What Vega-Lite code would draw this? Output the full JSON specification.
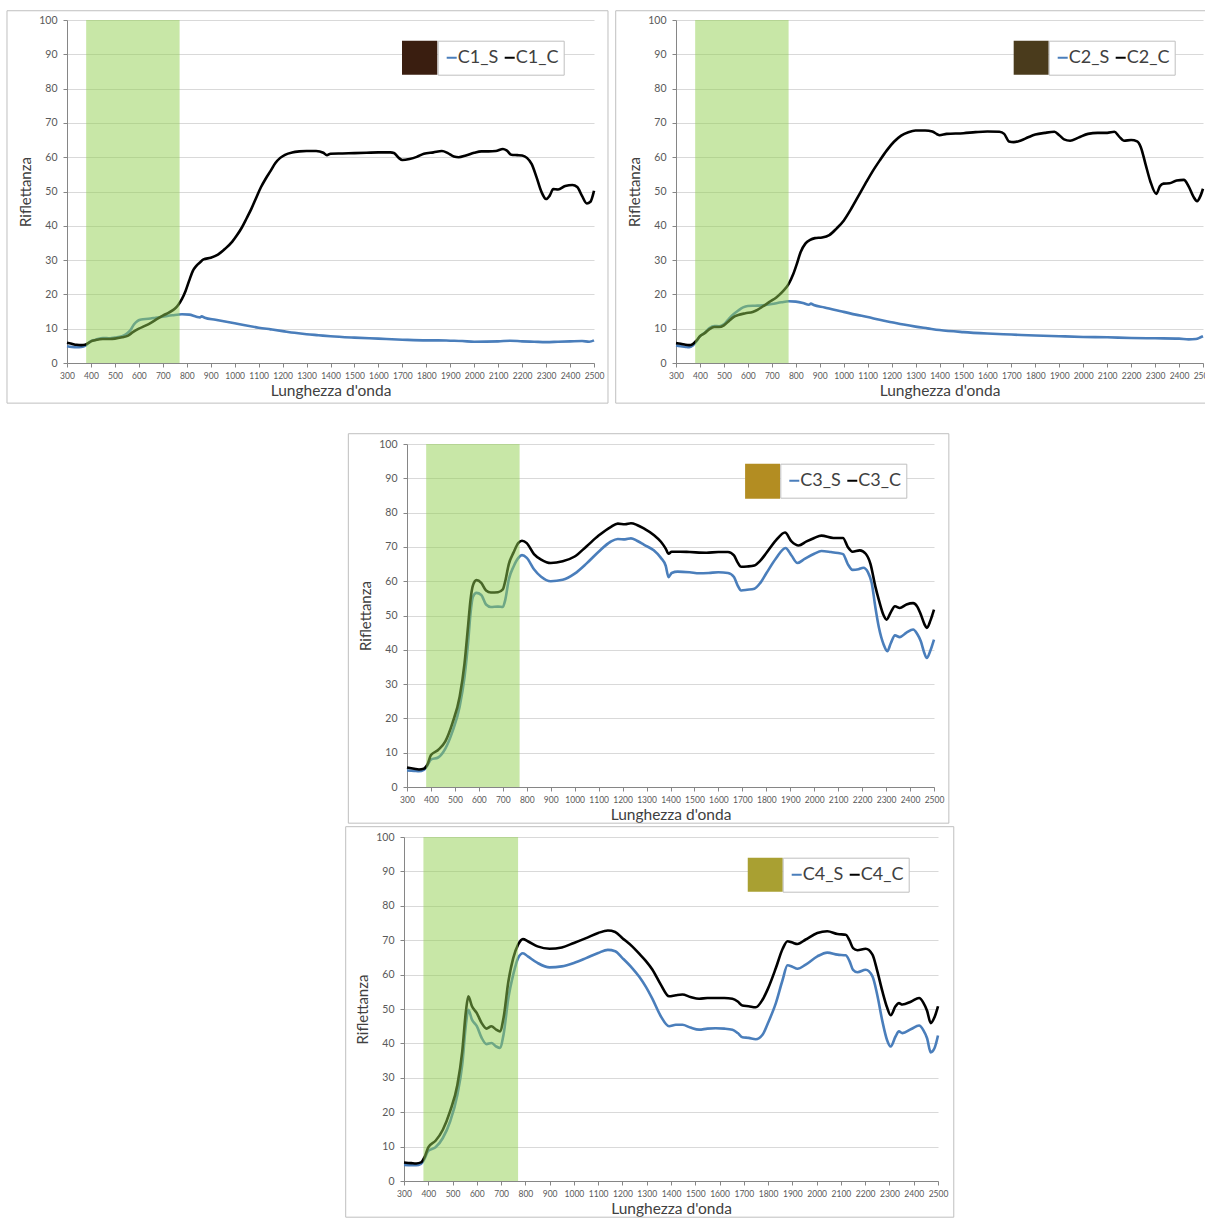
{
  "$schema": "https://vega.github.io/schema/vega-lite/v6.json",
  "background": "white",
  "padding": {"left": 6, "top": 10, "right": 0, "bottom": 0},
  "config": {
    "view": {"stroke": null},
    "font": "Lato",
    "axis": {
      "labelFont": "Lato", "titleFont": "Lato", "labelColor": "#595959", "titleColor": "#404040",
      "titleFontWeight": "normal", "domainColor": "#868686", "tickColor": "#868686", "gridColor": "#d9d9d9",
      "tickSize": 4
    },
    "axisX": {"grid": false, "format": "d", "labelFontSize": 8.5, "labelPadding": 4, "labelFlush": false, "labelOverlap": false, "titleFontSize": 15.5, "titlePadding": 4},
    "axisY": {"grid": true, "labelFontSize": 10.5, "labelPadding": 6, "labelOverlap": false, "titleFontSize": 15, "titlePadding": 5},
    "legend": {
      "orient": "none", "direction": "horizontal", "title": null, "symbolType": "stroke", "symbolSize": 100,
      "symbolStrokeWidth": 2, "labelFont": "Lato", "labelFontSize": 18, "labelColor": "#404040", "labelOffset": -3,
      "columnPadding": 2, "padding": 5, "clipHeight": 24, "fillColor": "white", "strokeColor": "#bfbfbf"
    }
  },
  "datasets": {
    "c1": [
      {"nm":300,"serie":"C1_S","r":4.9},{"nm":320,"serie":"C1_S","r":4.7},{"nm":340,"serie":"C1_S","r":4.6},{"nm":360,"serie":"C1_S","r":4.7},{"nm":375,"serie":"C1_S","r":5.0},{"nm":390,"serie":"C1_S","r":5.8},{"nm":400,"serie":"C1_S","r":6.4},{"nm":420,"serie":"C1_S","r":6.8},{"nm":450,"serie":"C1_S","r":7.3},{"nm":480,"serie":"C1_S","r":7.2},{"nm":500,"serie":"C1_S","r":7.4},{"nm":530,"serie":"C1_S","r":7.8},{"nm":550,"serie":"C1_S","r":8.6},{"nm":565,"serie":"C1_S","r":9.6},{"nm":580,"serie":"C1_S","r":11.3},{"nm":595,"serie":"C1_S","r":12.3},{"nm":610,"serie":"C1_S","r":12.7},{"nm":640,"serie":"C1_S","r":12.9},{"nm":670,"serie":"C1_S","r":13.2},{"nm":700,"serie":"C1_S","r":13.5},{"nm":740,"serie":"C1_S","r":13.9},{"nm":780,"serie":"C1_S","r":14.2},{"nm":810,"serie":"C1_S","r":14.1},{"nm":840,"serie":"C1_S","r":13.5},{"nm":855,"serie":"C1_S","r":13.3},{"nm":862,"serie":"C1_S","r":13.6},{"nm":875,"serie":"C1_S","r":13.2},{"nm":920,"serie":"C1_S","r":12.6},{"nm":1000,"serie":"C1_S","r":11.6},{"nm":1100,"serie":"C1_S","r":10.3},{"nm":1150,"serie":"C1_S","r":9.8},{"nm":1200,"serie":"C1_S","r":9.3},{"nm":1250,"serie":"C1_S","r":8.8},{"nm":1300,"serie":"C1_S","r":8.4},{"nm":1350,"serie":"C1_S","r":8.1},{"nm":1400,"serie":"C1_S","r":7.8},{"nm":1500,"serie":"C1_S","r":7.4},{"nm":1600,"serie":"C1_S","r":7.1},{"nm":1700,"serie":"C1_S","r":6.8},{"nm":1800,"serie":"C1_S","r":6.6},{"nm":1850,"serie":"C1_S","r":6.6},{"nm":1900,"serie":"C1_S","r":6.5},{"nm":1950,"serie":"C1_S","r":6.4},{"nm":2000,"serie":"C1_S","r":6.2},{"nm":2100,"serie":"C1_S","r":6.3},{"nm":2150,"serie":"C1_S","r":6.5},{"nm":2200,"serie":"C1_S","r":6.3},{"nm":2250,"serie":"C1_S","r":6.2},{"nm":2300,"serie":"C1_S","r":6.1},{"nm":2350,"serie":"C1_S","r":6.2},{"nm":2400,"serie":"C1_S","r":6.3},{"nm":2450,"serie":"C1_S","r":6.4},{"nm":2480,"serie":"C1_S","r":6.2},{"nm":2500,"serie":"C1_S","r":6.6},
      {"nm":300,"serie":"C1_C","r":5.9},{"nm":320,"serie":"C1_C","r":5.6},{"nm":340,"serie":"C1_C","r":5.3},{"nm":360,"serie":"C1_C","r":5.2},{"nm":375,"serie":"C1_C","r":5.3},{"nm":390,"serie":"C1_C","r":5.9},{"nm":400,"serie":"C1_C","r":6.3},{"nm":420,"serie":"C1_C","r":6.7},{"nm":450,"serie":"C1_C","r":7.0},{"nm":480,"serie":"C1_C","r":7.0},{"nm":500,"serie":"C1_C","r":7.1},{"nm":530,"serie":"C1_C","r":7.5},{"nm":555,"serie":"C1_C","r":8.0},{"nm":575,"serie":"C1_C","r":9.0},{"nm":600,"serie":"C1_C","r":10.0},{"nm":625,"serie":"C1_C","r":10.8},{"nm":650,"serie":"C1_C","r":11.7},{"nm":680,"serie":"C1_C","r":13.0},{"nm":700,"serie":"C1_C","r":13.8},{"nm":725,"serie":"C1_C","r":14.7},{"nm":750,"serie":"C1_C","r":15.8},{"nm":765,"serie":"C1_C","r":17.0},{"nm":780,"serie":"C1_C","r":18.7},{"nm":795,"serie":"C1_C","r":21.0},{"nm":810,"serie":"C1_C","r":24.0},{"nm":825,"serie":"C1_C","r":26.8},{"nm":840,"serie":"C1_C","r":28.3},{"nm":855,"serie":"C1_C","r":29.3},{"nm":870,"serie":"C1_C","r":30.2},{"nm":900,"serie":"C1_C","r":30.7},{"nm":930,"serie":"C1_C","r":31.6},{"nm":960,"serie":"C1_C","r":33.3},{"nm":990,"serie":"C1_C","r":35.4},{"nm":1010,"serie":"C1_C","r":37.3},{"nm":1030,"serie":"C1_C","r":39.5},{"nm":1050,"serie":"C1_C","r":42.2},{"nm":1070,"serie":"C1_C","r":45.0},{"nm":1090,"serie":"C1_C","r":48.2},{"nm":1110,"serie":"C1_C","r":51.3},{"nm":1130,"serie":"C1_C","r":53.8},{"nm":1150,"serie":"C1_C","r":56.0},{"nm":1170,"serie":"C1_C","r":58.3},{"nm":1190,"serie":"C1_C","r":59.8},{"nm":1210,"serie":"C1_C","r":60.7},{"nm":1240,"serie":"C1_C","r":61.4},{"nm":1270,"serie":"C1_C","r":61.7},{"nm":1300,"serie":"C1_C","r":61.8},{"nm":1340,"serie":"C1_C","r":61.8},{"nm":1370,"serie":"C1_C","r":61.3},{"nm":1385,"serie":"C1_C","r":60.6},{"nm":1400,"serie":"C1_C","r":61.0},{"nm":1450,"serie":"C1_C","r":61.1},{"nm":1500,"serie":"C1_C","r":61.2},{"nm":1550,"serie":"C1_C","r":61.3},{"nm":1600,"serie":"C1_C","r":61.4},{"nm":1650,"serie":"C1_C","r":61.4},{"nm":1665,"serie":"C1_C","r":61.2},{"nm":1685,"serie":"C1_C","r":59.8},{"nm":1700,"serie":"C1_C","r":59.2},{"nm":1730,"serie":"C1_C","r":59.5},{"nm":1760,"serie":"C1_C","r":60.1},{"nm":1790,"serie":"C1_C","r":61.0},{"nm":1830,"serie":"C1_C","r":61.4},{"nm":1865,"serie":"C1_C","r":61.8},{"nm":1890,"serie":"C1_C","r":61.2},{"nm":1915,"serie":"C1_C","r":60.2},{"nm":1935,"serie":"C1_C","r":60.0},{"nm":1965,"serie":"C1_C","r":60.5},{"nm":2000,"serie":"C1_C","r":61.3},{"nm":2030,"serie":"C1_C","r":61.7},{"nm":2060,"serie":"C1_C","r":61.7},{"nm":2090,"serie":"C1_C","r":61.8},{"nm":2120,"serie":"C1_C","r":62.4},{"nm":2135,"serie":"C1_C","r":62.0},{"nm":2155,"serie":"C1_C","r":60.7},{"nm":2180,"serie":"C1_C","r":60.6},{"nm":2200,"serie":"C1_C","r":60.5},{"nm":2220,"serie":"C1_C","r":59.8},{"nm":2240,"serie":"C1_C","r":58.0},{"nm":2260,"serie":"C1_C","r":54.2},{"nm":2280,"serie":"C1_C","r":50.0},{"nm":2300,"serie":"C1_C","r":47.8},{"nm":2315,"serie":"C1_C","r":48.8},{"nm":2330,"serie":"C1_C","r":50.7},{"nm":2350,"serie":"C1_C","r":50.6},{"nm":2380,"serie":"C1_C","r":51.6},{"nm":2410,"serie":"C1_C","r":51.9},{"nm":2430,"serie":"C1_C","r":51.3},{"nm":2450,"serie":"C1_C","r":48.7},{"nm":2470,"serie":"C1_C","r":46.5},{"nm":2485,"serie":"C1_C","r":47.0},{"nm":2500,"serie":"C1_C","r":50.2}
    ],
    "c2": [
      {"nm":300,"serie":"C2_S","r":5.1},{"nm":320,"serie":"C2_S","r":4.9},{"nm":340,"serie":"C2_S","r":4.7},{"nm":355,"serie":"C2_S","r":4.6},{"nm":370,"serie":"C2_S","r":5.1},{"nm":385,"serie":"C2_S","r":6.3},{"nm":400,"serie":"C2_S","r":7.8},{"nm":420,"serie":"C2_S","r":8.8},{"nm":440,"serie":"C2_S","r":10.2},{"nm":460,"serie":"C2_S","r":10.8},{"nm":480,"serie":"C2_S","r":10.7},{"nm":500,"serie":"C2_S","r":11.3},{"nm":520,"serie":"C2_S","r":12.8},{"nm":540,"serie":"C2_S","r":14.2},{"nm":560,"serie":"C2_S","r":15.3},{"nm":580,"serie":"C2_S","r":16.2},{"nm":600,"serie":"C2_S","r":16.6},{"nm":630,"serie":"C2_S","r":16.7},{"nm":660,"serie":"C2_S","r":16.8},{"nm":700,"serie":"C2_S","r":17.2},{"nm":740,"serie":"C2_S","r":17.7},{"nm":770,"serie":"C2_S","r":18.0},{"nm":800,"serie":"C2_S","r":17.9},{"nm":830,"serie":"C2_S","r":17.5},{"nm":855,"serie":"C2_S","r":17.0},{"nm":863,"serie":"C2_S","r":17.3},{"nm":875,"serie":"C2_S","r":16.9},{"nm":920,"serie":"C2_S","r":16.2},{"nm":960,"serie":"C2_S","r":15.5},{"nm":1000,"serie":"C2_S","r":14.9},{"nm":1050,"serie":"C2_S","r":14.1},{"nm":1100,"serie":"C2_S","r":13.4},{"nm":1150,"serie":"C2_S","r":12.6},{"nm":1200,"serie":"C2_S","r":11.9},{"nm":1250,"serie":"C2_S","r":11.2},{"nm":1300,"serie":"C2_S","r":10.6},{"nm":1350,"serie":"C2_S","r":10.1},{"nm":1400,"serie":"C2_S","r":9.6},{"nm":1500,"serie":"C2_S","r":9.0},{"nm":1600,"serie":"C2_S","r":8.6},{"nm":1700,"serie":"C2_S","r":8.3},{"nm":1800,"serie":"C2_S","r":8.0},{"nm":1900,"serie":"C2_S","r":7.8},{"nm":2000,"serie":"C2_S","r":7.6},{"nm":2100,"serie":"C2_S","r":7.5},{"nm":2200,"serie":"C2_S","r":7.3},{"nm":2300,"serie":"C2_S","r":7.2},{"nm":2400,"serie":"C2_S","r":7.1},{"nm":2440,"serie":"C2_S","r":6.9},{"nm":2470,"serie":"C2_S","r":7.0},{"nm":2490,"serie":"C2_S","r":7.5},{"nm":2500,"serie":"C2_S","r":7.8},
      {"nm":300,"serie":"C2_C","r":5.8},{"nm":320,"serie":"C2_C","r":5.6},{"nm":340,"serie":"C2_C","r":5.3},{"nm":355,"serie":"C2_C","r":5.2},{"nm":370,"serie":"C2_C","r":5.5},{"nm":385,"serie":"C2_C","r":6.5},{"nm":400,"serie":"C2_C","r":7.8},{"nm":420,"serie":"C2_C","r":8.7},{"nm":440,"serie":"C2_C","r":9.9},{"nm":460,"serie":"C2_C","r":10.5},{"nm":480,"serie":"C2_C","r":10.5},{"nm":500,"serie":"C2_C","r":11.0},{"nm":520,"serie":"C2_C","r":12.2},{"nm":540,"serie":"C2_C","r":13.4},{"nm":560,"serie":"C2_C","r":14.0},{"nm":590,"serie":"C2_C","r":14.5},{"nm":620,"serie":"C2_C","r":14.9},{"nm":640,"serie":"C2_C","r":15.5},{"nm":660,"serie":"C2_C","r":16.4},{"nm":690,"serie":"C2_C","r":17.8},{"nm":720,"serie":"C2_C","r":19.2},{"nm":745,"serie":"C2_C","r":20.8},{"nm":770,"serie":"C2_C","r":23.0},{"nm":790,"serie":"C2_C","r":26.0},{"nm":805,"serie":"C2_C","r":29.0},{"nm":820,"serie":"C2_C","r":32.3},{"nm":840,"serie":"C2_C","r":34.8},{"nm":860,"serie":"C2_C","r":35.9},{"nm":880,"serie":"C2_C","r":36.4},{"nm":910,"serie":"C2_C","r":36.6},{"nm":940,"serie":"C2_C","r":37.3},{"nm":970,"serie":"C2_C","r":39.2},{"nm":1000,"serie":"C2_C","r":41.5},{"nm":1030,"serie":"C2_C","r":44.8},{"nm":1060,"serie":"C2_C","r":48.5},{"nm":1090,"serie":"C2_C","r":52.2},{"nm":1120,"serie":"C2_C","r":55.8},{"nm":1150,"serie":"C2_C","r":59.0},{"nm":1180,"serie":"C2_C","r":62.0},{"nm":1210,"serie":"C2_C","r":64.5},{"nm":1240,"serie":"C2_C","r":66.3},{"nm":1270,"serie":"C2_C","r":67.3},{"nm":1300,"serie":"C2_C","r":67.8},{"nm":1340,"serie":"C2_C","r":67.8},{"nm":1370,"serie":"C2_C","r":67.5},{"nm":1390,"serie":"C2_C","r":66.7},{"nm":1400,"serie":"C2_C","r":66.4},{"nm":1430,"serie":"C2_C","r":66.8},{"nm":1500,"serie":"C2_C","r":67.0},{"nm":1550,"serie":"C2_C","r":67.3},{"nm":1600,"serie":"C2_C","r":67.5},{"nm":1650,"serie":"C2_C","r":67.4},{"nm":1670,"serie":"C2_C","r":66.8},{"nm":1690,"serie":"C2_C","r":64.6},{"nm":1710,"serie":"C2_C","r":64.4},{"nm":1740,"serie":"C2_C","r":64.9},{"nm":1770,"serie":"C2_C","r":65.8},{"nm":1800,"serie":"C2_C","r":66.6},{"nm":1840,"serie":"C2_C","r":67.1},{"nm":1880,"serie":"C2_C","r":67.4},{"nm":1900,"serie":"C2_C","r":66.4},{"nm":1920,"serie":"C2_C","r":65.2},{"nm":1945,"serie":"C2_C","r":64.8},{"nm":1980,"serie":"C2_C","r":65.7},{"nm":2020,"serie":"C2_C","r":66.8},{"nm":2060,"serie":"C2_C","r":67.1},{"nm":2100,"serie":"C2_C","r":67.1},{"nm":2130,"serie":"C2_C","r":67.4},{"nm":2150,"serie":"C2_C","r":66.0},{"nm":2170,"serie":"C2_C","r":64.8},{"nm":2200,"serie":"C2_C","r":65.0},{"nm":2225,"serie":"C2_C","r":64.6},{"nm":2240,"serie":"C2_C","r":63.0},{"nm":2260,"serie":"C2_C","r":58.0},{"nm":2280,"serie":"C2_C","r":53.0},{"nm":2305,"serie":"C2_C","r":49.3},{"nm":2320,"serie":"C2_C","r":51.5},{"nm":2335,"serie":"C2_C","r":52.3},{"nm":2360,"serie":"C2_C","r":52.4},{"nm":2390,"serie":"C2_C","r":53.2},{"nm":2420,"serie":"C2_C","r":53.4},{"nm":2440,"serie":"C2_C","r":51.5},{"nm":2460,"serie":"C2_C","r":48.5},{"nm":2475,"serie":"C2_C","r":47.2},{"nm":2490,"serie":"C2_C","r":48.8},{"nm":2500,"serie":"C2_C","r":50.8}
    ],
    "c3": [
      {"nm":300,"serie":"C3_S","r":4.8},{"nm":330,"serie":"C3_S","r":4.7},{"nm":350,"serie":"C3_S","r":4.6},{"nm":370,"serie":"C3_S","r":5.0},{"nm":385,"serie":"C3_S","r":6.3},{"nm":400,"serie":"C3_S","r":8.0},{"nm":430,"serie":"C3_S","r":8.6},{"nm":460,"serie":"C3_S","r":11.2},{"nm":490,"serie":"C3_S","r":16.2},{"nm":520,"serie":"C3_S","r":23.5},{"nm":540,"serie":"C3_S","r":32.0},{"nm":555,"serie":"C3_S","r":42.0},{"nm":565,"serie":"C3_S","r":50.5},{"nm":575,"serie":"C3_S","r":55.4},{"nm":590,"serie":"C3_S","r":56.6},{"nm":610,"serie":"C3_S","r":56.0},{"nm":630,"serie":"C3_S","r":53.2},{"nm":650,"serie":"C3_S","r":52.5},{"nm":680,"serie":"C3_S","r":52.6},{"nm":700,"serie":"C3_S","r":52.5},{"nm":710,"serie":"C3_S","r":54.5},{"nm":725,"serie":"C3_S","r":60.5},{"nm":745,"serie":"C3_S","r":64.3},{"nm":765,"serie":"C3_S","r":66.8},{"nm":780,"serie":"C3_S","r":67.6},{"nm":800,"serie":"C3_S","r":66.8},{"nm":830,"serie":"C3_S","r":63.5},{"nm":860,"serie":"C3_S","r":61.3},{"nm":900,"serie":"C3_S","r":60.0},{"nm":950,"serie":"C3_S","r":60.4},{"nm":1000,"serie":"C3_S","r":62.2},{"nm":1050,"serie":"C3_S","r":65.2},{"nm":1100,"serie":"C3_S","r":68.6},{"nm":1150,"serie":"C3_S","r":71.5},{"nm":1180,"serie":"C3_S","r":72.3},{"nm":1210,"serie":"C3_S","r":72.2},{"nm":1235,"serie":"C3_S","r":72.5},{"nm":1260,"serie":"C3_S","r":71.8},{"nm":1290,"serie":"C3_S","r":70.6},{"nm":1330,"serie":"C3_S","r":69.0},{"nm":1360,"serie":"C3_S","r":66.8},{"nm":1380,"serie":"C3_S","r":64.5},{"nm":1392,"serie":"C3_S","r":61.2},{"nm":1405,"serie":"C3_S","r":62.4},{"nm":1430,"serie":"C3_S","r":62.8},{"nm":1480,"serie":"C3_S","r":62.6},{"nm":1520,"serie":"C3_S","r":62.3},{"nm":1560,"serie":"C3_S","r":62.4},{"nm":1600,"serie":"C3_S","r":62.6},{"nm":1640,"serie":"C3_S","r":62.4},{"nm":1665,"serie":"C3_S","r":61.2},{"nm":1680,"serie":"C3_S","r":58.8},{"nm":1695,"serie":"C3_S","r":57.3},{"nm":1720,"serie":"C3_S","r":57.5},{"nm":1750,"serie":"C3_S","r":57.8},{"nm":1775,"serie":"C3_S","r":59.5},{"nm":1800,"serie":"C3_S","r":62.3},{"nm":1840,"serie":"C3_S","r":66.6},{"nm":1880,"serie":"C3_S","r":69.7},{"nm":1905,"serie":"C3_S","r":67.5},{"nm":1930,"serie":"C3_S","r":65.3},{"nm":1960,"serie":"C3_S","r":66.5},{"nm":2000,"serie":"C3_S","r":68.0},{"nm":2030,"serie":"C3_S","r":68.8},{"nm":2070,"serie":"C3_S","r":68.5},{"nm":2100,"serie":"C3_S","r":68.2},{"nm":2120,"serie":"C3_S","r":67.9},{"nm":2140,"serie":"C3_S","r":65.0},{"nm":2160,"serie":"C3_S","r":63.3},{"nm":2185,"serie":"C3_S","r":63.5},{"nm":2205,"serie":"C3_S","r":63.9},{"nm":2225,"serie":"C3_S","r":62.5},{"nm":2240,"serie":"C3_S","r":59.5},{"nm":2255,"serie":"C3_S","r":52.5},{"nm":2270,"serie":"C3_S","r":46.5},{"nm":2290,"serie":"C3_S","r":41.5},{"nm":2305,"serie":"C3_S","r":39.6},{"nm":2320,"serie":"C3_S","r":42.0},{"nm":2337,"serie":"C3_S","r":44.2},{"nm":2357,"serie":"C3_S","r":43.7},{"nm":2385,"serie":"C3_S","r":45.0},{"nm":2413,"serie":"C3_S","r":45.9},{"nm":2430,"serie":"C3_S","r":44.6},{"nm":2445,"serie":"C3_S","r":42.5},{"nm":2460,"serie":"C3_S","r":39.0},{"nm":2470,"serie":"C3_S","r":37.6},{"nm":2485,"serie":"C3_S","r":39.8},{"nm":2500,"serie":"C3_S","r":43.0},
      {"nm":300,"serie":"C3_C","r":5.7},{"nm":330,"serie":"C3_C","r":5.3},{"nm":350,"serie":"C3_C","r":5.1},{"nm":370,"serie":"C3_C","r":5.3},{"nm":385,"serie":"C3_C","r":6.5},{"nm":400,"serie":"C3_C","r":9.3},{"nm":430,"serie":"C3_C","r":10.8},{"nm":460,"serie":"C3_C","r":13.3},{"nm":490,"serie":"C3_C","r":18.7},{"nm":520,"serie":"C3_C","r":26.4},{"nm":540,"serie":"C3_C","r":36.0},{"nm":555,"serie":"C3_C","r":47.0},{"nm":565,"serie":"C3_C","r":54.5},{"nm":575,"serie":"C3_C","r":58.7},{"nm":590,"serie":"C3_C","r":60.3},{"nm":610,"serie":"C3_C","r":59.5},{"nm":630,"serie":"C3_C","r":57.3},{"nm":650,"serie":"C3_C","r":56.7},{"nm":680,"serie":"C3_C","r":56.8},{"nm":700,"serie":"C3_C","r":57.6},{"nm":710,"serie":"C3_C","r":60.0},{"nm":725,"serie":"C3_C","r":65.0},{"nm":745,"serie":"C3_C","r":68.4},{"nm":765,"serie":"C3_C","r":71.2},{"nm":780,"serie":"C3_C","r":71.8},{"nm":800,"serie":"C3_C","r":71.1},{"nm":830,"serie":"C3_C","r":67.9},{"nm":860,"serie":"C3_C","r":66.3},{"nm":900,"serie":"C3_C","r":65.3},{"nm":950,"serie":"C3_C","r":65.8},{"nm":1000,"serie":"C3_C","r":67.2},{"nm":1050,"serie":"C3_C","r":70.2},{"nm":1100,"serie":"C3_C","r":73.3},{"nm":1150,"serie":"C3_C","r":75.8},{"nm":1180,"serie":"C3_C","r":76.8},{"nm":1210,"serie":"C3_C","r":76.6},{"nm":1235,"serie":"C3_C","r":76.9},{"nm":1260,"serie":"C3_C","r":76.4},{"nm":1290,"serie":"C3_C","r":75.3},{"nm":1330,"serie":"C3_C","r":73.5},{"nm":1360,"serie":"C3_C","r":71.5},{"nm":1380,"serie":"C3_C","r":69.5},{"nm":1392,"serie":"C3_C","r":68.0},{"nm":1405,"serie":"C3_C","r":68.6},{"nm":1440,"serie":"C3_C","r":68.6},{"nm":1480,"serie":"C3_C","r":68.5},{"nm":1550,"serie":"C3_C","r":68.3},{"nm":1600,"serie":"C3_C","r":68.5},{"nm":1640,"serie":"C3_C","r":68.5},{"nm":1665,"serie":"C3_C","r":67.5},{"nm":1680,"serie":"C3_C","r":65.5},{"nm":1695,"serie":"C3_C","r":64.2},{"nm":1720,"serie":"C3_C","r":64.3},{"nm":1750,"serie":"C3_C","r":64.6},{"nm":1775,"serie":"C3_C","r":66.0},{"nm":1800,"serie":"C3_C","r":68.2},{"nm":1840,"serie":"C3_C","r":71.9},{"nm":1878,"serie":"C3_C","r":74.2},{"nm":1905,"serie":"C3_C","r":71.6},{"nm":1935,"serie":"C3_C","r":70.4},{"nm":1968,"serie":"C3_C","r":71.6},{"nm":2000,"serie":"C3_C","r":72.6},{"nm":2030,"serie":"C3_C","r":73.3},{"nm":2080,"serie":"C3_C","r":72.6},{"nm":2120,"serie":"C3_C","r":72.6},{"nm":2140,"serie":"C3_C","r":70.0},{"nm":2160,"serie":"C3_C","r":68.6},{"nm":2190,"serie":"C3_C","r":69.0},{"nm":2215,"serie":"C3_C","r":68.0},{"nm":2235,"serie":"C3_C","r":65.0},{"nm":2255,"serie":"C3_C","r":58.5},{"nm":2270,"serie":"C3_C","r":54.5},{"nm":2290,"serie":"C3_C","r":50.0},{"nm":2302,"serie":"C3_C","r":48.8},{"nm":2320,"serie":"C3_C","r":51.0},{"nm":2337,"serie":"C3_C","r":52.7},{"nm":2357,"serie":"C3_C","r":52.2},{"nm":2385,"serie":"C3_C","r":53.2},{"nm":2413,"serie":"C3_C","r":53.6},{"nm":2430,"serie":"C3_C","r":52.6},{"nm":2445,"serie":"C3_C","r":50.3},{"nm":2460,"serie":"C3_C","r":47.5},{"nm":2470,"serie":"C3_C","r":46.4},{"nm":2485,"serie":"C3_C","r":48.5},{"nm":2500,"serie":"C3_C","r":51.7}
    ],
    "c4": [
      {"nm":300,"serie":"C4_S","r":4.7},{"nm":330,"serie":"C4_S","r":4.6},{"nm":350,"serie":"C4_S","r":4.6},{"nm":370,"serie":"C4_S","r":5.0},{"nm":385,"serie":"C4_S","r":6.5},{"nm":400,"serie":"C4_S","r":8.8},{"nm":430,"serie":"C4_S","r":9.8},{"nm":460,"serie":"C4_S","r":12.5},{"nm":490,"serie":"C4_S","r":17.3},{"nm":520,"serie":"C4_S","r":25.1},{"nm":540,"serie":"C4_S","r":33.8},{"nm":555,"serie":"C4_S","r":45.4},{"nm":565,"serie":"C4_S","r":49.8},{"nm":580,"serie":"C4_S","r":46.9},{"nm":600,"serie":"C4_S","r":45.0},{"nm":620,"serie":"C4_S","r":41.6},{"nm":640,"serie":"C4_S","r":39.8},{"nm":660,"serie":"C4_S","r":40.1},{"nm":680,"serie":"C4_S","r":39.1},{"nm":695,"serie":"C4_S","r":38.7},{"nm":710,"serie":"C4_S","r":42.5},{"nm":730,"serie":"C4_S","r":53.2},{"nm":750,"serie":"C4_S","r":60.0},{"nm":770,"serie":"C4_S","r":64.8},{"nm":790,"serie":"C4_S","r":66.2},{"nm":810,"serie":"C4_S","r":65.3},{"nm":850,"serie":"C4_S","r":63.4},{"nm":900,"serie":"C4_S","r":62.1},{"nm":950,"serie":"C4_S","r":62.4},{"nm":1000,"serie":"C4_S","r":63.4},{"nm":1050,"serie":"C4_S","r":64.8},{"nm":1100,"serie":"C4_S","r":66.3},{"nm":1140,"serie":"C4_S","r":67.2},{"nm":1170,"serie":"C4_S","r":66.8},{"nm":1200,"serie":"C4_S","r":64.8},{"nm":1240,"serie":"C4_S","r":61.9},{"nm":1270,"serie":"C4_S","r":59.3},{"nm":1296,"serie":"C4_S","r":56.5},{"nm":1323,"serie":"C4_S","r":53.0},{"nm":1358,"serie":"C4_S","r":47.9},{"nm":1392,"serie":"C4_S","r":45.0},{"nm":1420,"serie":"C4_S","r":45.4},{"nm":1447,"serie":"C4_S","r":45.4},{"nm":1480,"serie":"C4_S","r":44.6},{"nm":1516,"serie":"C4_S","r":44.0},{"nm":1550,"serie":"C4_S","r":44.3},{"nm":1584,"serie":"C4_S","r":44.4},{"nm":1620,"serie":"C4_S","r":44.3},{"nm":1653,"serie":"C4_S","r":44.0},{"nm":1675,"serie":"C4_S","r":43.0},{"nm":1694,"serie":"C4_S","r":41.8},{"nm":1720,"serie":"C4_S","r":41.6},{"nm":1749,"serie":"C4_S","r":41.2},{"nm":1777,"serie":"C4_S","r":42.5},{"nm":1800,"serie":"C4_S","r":46.0},{"nm":1832,"serie":"C4_S","r":51.7},{"nm":1860,"serie":"C4_S","r":58.5},{"nm":1880,"serie":"C4_S","r":62.7},{"nm":1900,"serie":"C4_S","r":62.3},{"nm":1921,"serie":"C4_S","r":61.7},{"nm":1955,"serie":"C4_S","r":62.9},{"nm":2003,"serie":"C4_S","r":65.3},{"nm":2044,"serie":"C4_S","r":66.4},{"nm":2086,"serie":"C4_S","r":65.8},{"nm":2120,"serie":"C4_S","r":65.6},{"nm":2135,"serie":"C4_S","r":64.0},{"nm":2150,"serie":"C4_S","r":61.4},{"nm":2168,"serie":"C4_S","r":60.7},{"nm":2202,"serie":"C4_S","r":61.4},{"nm":2230,"serie":"C4_S","r":59.5},{"nm":2250,"serie":"C4_S","r":54.0},{"nm":2271,"serie":"C4_S","r":46.4},{"nm":2290,"serie":"C4_S","r":41.0},{"nm":2305,"serie":"C4_S","r":39.1},{"nm":2325,"serie":"C4_S","r":42.0},{"nm":2339,"serie":"C4_S","r":43.5},{"nm":2353,"serie":"C4_S","r":43.0},{"nm":2390,"serie":"C4_S","r":44.2},{"nm":2422,"serie":"C4_S","r":45.2},{"nm":2440,"serie":"C4_S","r":43.8},{"nm":2455,"serie":"C4_S","r":41.5},{"nm":2470,"serie":"C4_S","r":37.4},{"nm":2485,"serie":"C4_S","r":38.5},{"nm":2500,"serie":"C4_S","r":42.3},
      {"nm":300,"serie":"C4_C","r":5.4},{"nm":330,"serie":"C4_C","r":5.2},{"nm":350,"serie":"C4_C","r":5.1},{"nm":370,"serie":"C4_C","r":5.4},{"nm":385,"serie":"C4_C","r":7.0},{"nm":400,"serie":"C4_C","r":9.8},{"nm":430,"serie":"C4_C","r":11.7},{"nm":460,"serie":"C4_C","r":14.9},{"nm":490,"serie":"C4_C","r":20.3},{"nm":520,"serie":"C4_C","r":28.0},{"nm":540,"serie":"C4_C","r":37.7},{"nm":555,"serie":"C4_C","r":49.3},{"nm":565,"serie":"C4_C","r":53.7},{"nm":580,"serie":"C4_C","r":50.8},{"nm":600,"serie":"C4_C","r":48.8},{"nm":620,"serie":"C4_C","r":45.9},{"nm":640,"serie":"C4_C","r":44.3},{"nm":660,"serie":"C4_C","r":45.0},{"nm":680,"serie":"C4_C","r":44.0},{"nm":695,"serie":"C4_C","r":43.5},{"nm":710,"serie":"C4_C","r":47.4},{"nm":730,"serie":"C4_C","r":58.0},{"nm":750,"serie":"C4_C","r":64.8},{"nm":770,"serie":"C4_C","r":68.7},{"nm":790,"serie":"C4_C","r":70.3},{"nm":810,"serie":"C4_C","r":69.7},{"nm":850,"serie":"C4_C","r":68.2},{"nm":900,"serie":"C4_C","r":67.5},{"nm":950,"serie":"C4_C","r":67.9},{"nm":1000,"serie":"C4_C","r":69.2},{"nm":1050,"serie":"C4_C","r":70.6},{"nm":1100,"serie":"C4_C","r":72.1},{"nm":1140,"serie":"C4_C","r":72.8},{"nm":1170,"serie":"C4_C","r":72.4},{"nm":1200,"serie":"C4_C","r":70.6},{"nm":1240,"serie":"C4_C","r":68.2},{"nm":1270,"serie":"C4_C","r":66.0},{"nm":1296,"serie":"C4_C","r":64.0},{"nm":1323,"serie":"C4_C","r":61.5},{"nm":1358,"serie":"C4_C","r":57.1},{"nm":1392,"serie":"C4_C","r":53.7},{"nm":1420,"serie":"C4_C","r":54.0},{"nm":1447,"serie":"C4_C","r":54.2},{"nm":1480,"serie":"C4_C","r":53.5},{"nm":1516,"serie":"C4_C","r":53.0},{"nm":1550,"serie":"C4_C","r":53.2},{"nm":1584,"serie":"C4_C","r":53.2},{"nm":1620,"serie":"C4_C","r":53.2},{"nm":1653,"serie":"C4_C","r":53.0},{"nm":1675,"serie":"C4_C","r":52.2},{"nm":1694,"serie":"C4_C","r":51.0},{"nm":1720,"serie":"C4_C","r":50.8},{"nm":1749,"serie":"C4_C","r":50.5},{"nm":1777,"serie":"C4_C","r":52.7},{"nm":1800,"serie":"C4_C","r":56.0},{"nm":1832,"serie":"C4_C","r":61.9},{"nm":1860,"serie":"C4_C","r":67.5},{"nm":1880,"serie":"C4_C","r":69.7},{"nm":1900,"serie":"C4_C","r":69.3},{"nm":1921,"serie":"C4_C","r":68.9},{"nm":1955,"serie":"C4_C","r":70.2},{"nm":2003,"serie":"C4_C","r":72.1},{"nm":2044,"serie":"C4_C","r":72.6},{"nm":2086,"serie":"C4_C","r":71.8},{"nm":2120,"serie":"C4_C","r":71.6},{"nm":2135,"serie":"C4_C","r":70.0},{"nm":2150,"serie":"C4_C","r":67.7},{"nm":2168,"serie":"C4_C","r":67.1},{"nm":2202,"serie":"C4_C","r":67.5},{"nm":2230,"serie":"C4_C","r":65.8},{"nm":2250,"serie":"C4_C","r":61.0},{"nm":2271,"serie":"C4_C","r":55.1},{"nm":2290,"serie":"C4_C","r":50.5},{"nm":2305,"serie":"C4_C","r":48.2},{"nm":2325,"serie":"C4_C","r":50.8},{"nm":2339,"serie":"C4_C","r":51.7},{"nm":2353,"serie":"C4_C","r":51.3},{"nm":2390,"serie":"C4_C","r":52.2},{"nm":2422,"serie":"C4_C","r":53.2},{"nm":2440,"serie":"C4_C","r":51.8},{"nm":2455,"serie":"C4_C","r":49.5},{"nm":2470,"serie":"C4_C","r":45.9},{"nm":2485,"serie":"C4_C","r":47.5},{"nm":2500,"serie":"C4_C","r":50.8}
    ]
  },
  "spacing": 29,
  "resolve": {"scale": {"x": "independent", "y": "independent", "color": "independent"}, "legend": {"color": "independent"}, "axis": {"x": "independent", "y": "independent"}},
  "vconcat": [
    {
      "spacing": 6,
      "resolve": {"scale": {"x": "independent", "y": "independent", "color": "independent"}, "legend": {"color": "independent"}},
      "hconcat": [
        {
          "width": 527, "height": 343,
          "layer": [
            {"data": {"name": "c1"}, "mark": {"type": "line", "strokeWidth": 2.6, "interpolate": "monotone"},
             "encoding": {
               "x": {"field": "nm", "type": "quantitative", "scale": {"domain": [300, 2500], "nice": false, "zero": false}, "axis": {"title": "Lunghezza d'onda", "tickCount": 22, "tickMinStep": 100}},
               "y": {"field": "r", "type": "quantitative", "scale": {"domain": [0, 100], "nice": false}, "axis": {"title": "Riflettanza", "tickCount": 10, "tickMinStep": 10}},
               "color": {"field": "serie", "type": "nominal", "scale": {"domain": ["C1_S", "C1_C"], "range": ["#4a7ebb", "#000000"]}, "legend": {"legendX": 370.7, "legendY": 20.7}}
             }},
            {"data": {"values": [{"inizio": 380, "fine": 770}]}, "mark": {"type": "rect", "color": "#92d050", "opacity": 0.5},
             "encoding": {"x": {"field": "inizio", "type": "quantitative", "scale": {"domain": [300, 2500], "nice": false, "zero": false}, "axis": {"title": "Lunghezza d'onda", "tickCount": 22, "tickMinStep": 100}}, "x2": {"field": "fine"}, "y": {"datum": 0, "type": "quantitative", "scale": {"domain": [0, 100], "nice": false}, "axis": {"title": "Riflettanza", "tickCount": 10, "tickMinStep": 10}}, "y2": {"datum": 100}}},
            {"data": {"values": [{}]}, "mark": {"type": "rect", "color": "#3a1e10"},
             "encoding": {"x": {"datum": 1698.5, "type": "quantitative", "scale": {"domain": [300, 2500], "nice": false, "zero": false}, "axis": {"title": "Lunghezza d'onda", "tickCount": 22, "tickMinStep": 100}}, "x2": {"datum": 1846}, "y": {"datum": 93.97, "type": "quantitative", "scale": {"domain": [0, 100], "nice": false}, "axis": {"title": "Riflettanza", "tickCount": 10, "tickMinStep": 10}}, "y2": {"datum": 84.05}}},
            {"data": {"values": [{}]}, "mark": {"type": "rect", "filled": false, "stroke": "#bfbfbf", "strokeWidth": 1, "clip": false},
             "encoding": {"x": {"datum": 49.5, "type": "quantitative", "scale": {"domain": [300, 2500], "nice": false, "zero": false}, "axis": {"title": "Lunghezza d'onda", "tickCount": 22, "tickMinStep": 100}}, "x2": {"datum": 2558.4}, "y": {"datum": 102.7, "type": "quantitative", "scale": {"domain": [0, 100], "nice": false}, "axis": {"title": "Riflettanza", "tickCount": 10, "tickMinStep": 10}}, "y2": {"datum": -11.7}}}
          ]
        },
        {
          "width": 527, "height": 343,
          "layer": [
            {"data": {"name": "c2"}, "mark": {"type": "line", "strokeWidth": 2.6, "interpolate": "monotone"},
             "encoding": {
               "x": {"field": "nm", "type": "quantitative", "scale": {"domain": [300, 2500], "nice": false, "zero": false}, "axis": {"title": "Lunghezza d'onda", "tickCount": 22, "tickMinStep": 100}},
               "y": {"field": "r", "type": "quantitative", "scale": {"domain": [0, 100], "nice": false}, "axis": {"title": "Riflettanza", "tickCount": 10, "tickMinStep": 10}},
               "color": {"field": "serie", "type": "nominal", "scale": {"domain": ["C2_S", "C2_C"], "range": ["#4a7ebb", "#000000"]}, "legend": {"legendX": 372.7, "legendY": 20.7}}
             }},
            {"data": {"values": [{"inizio": 380, "fine": 770}]}, "mark": {"type": "rect", "color": "#92d050", "opacity": 0.5},
             "encoding": {"x": {"field": "inizio", "type": "quantitative", "scale": {"domain": [300, 2500], "nice": false, "zero": false}, "axis": {"title": "Lunghezza d'onda", "tickCount": 22, "tickMinStep": 100}}, "x2": {"field": "fine"}, "y": {"datum": 0, "type": "quantitative", "scale": {"domain": [0, 100], "nice": false}, "axis": {"title": "Riflettanza", "tickCount": 10, "tickMinStep": 10}}, "y2": {"datum": 100}}},
            {"data": {"values": [{}]}, "mark": {"type": "rect", "color": "#4a3b1c"},
             "encoding": {"x": {"datum": 1709.7, "type": "quantitative", "scale": {"domain": [300, 2500], "nice": false, "zero": false}, "axis": {"title": "Lunghezza d'onda", "tickCount": 22, "tickMinStep": 100}}, "x2": {"datum": 1855.8}, "y": {"datum": 93.97, "type": "quantitative", "scale": {"domain": [0, 100], "nice": false}, "axis": {"title": "Riflettanza", "tickCount": 10, "tickMinStep": 10}}, "y2": {"datum": 84.05}}},
            {"data": {"values": [{}]}, "mark": {"type": "rect", "filled": false, "stroke": "#bfbfbf", "strokeWidth": 1, "clip": false},
             "encoding": {"x": {"datum": 48.3, "type": "quantitative", "scale": {"domain": [300, 2500], "nice": false, "zero": false}, "axis": {"title": "Lunghezza d'onda", "tickCount": 22, "tickMinStep": 100}}, "x2": {"datum": 2558.4}, "y": {"datum": 102.7, "type": "quantitative", "scale": {"domain": [0, 100], "nice": false}, "axis": {"title": "Riflettanza", "tickCount": 10, "tickMinStep": 10}}, "y2": {"datum": -11.7}}}
          ]
        }
      ]
    },
    {
      "spacing": 2,
      "resolve": {"scale": {"x": "independent", "y": "independent", "color": "independent"}, "legend": {"color": "independent"}},
      "vconcat": [
        {
          "spacing": 0,
          "resolve": {"scale": {"x": "independent", "y": "independent", "color": "independent"}, "legend": {"color": "independent"}},
          "hconcat": [
            {"width": 280, "height": 1, "data": {"values": []}, "mark": "point", "encoding": {}},
            {
              "width": 527, "height": 343,
              "layer": [
                {"data": {"name": "c3"}, "mark": {"type": "line", "strokeWidth": 2.6, "interpolate": "monotone"},
                 "encoding": {
                   "x": {"field": "nm", "type": "quantitative", "scale": {"domain": [300, 2500], "nice": false, "zero": false}, "axis": {"title": "Lunghezza d'onda", "tickCount": 22, "tickMinStep": 100}},
                   "y": {"field": "r", "type": "quantitative", "scale": {"domain": [0, 100], "nice": false}, "axis": {"title": "Riflettanza", "tickCount": 10, "tickMinStep": 10}},
                   "color": {"field": "serie", "type": "nominal", "scale": {"domain": ["C3_S", "C3_C"], "range": ["#4a7ebb", "#000000"]}, "legend": {"legendX": 373.3, "legendY": 19.7}}
                 }},
                {"data": {"values": [{"inizio": 380, "fine": 770}]}, "mark": {"type": "rect", "color": "#92d050", "opacity": 0.5},
                 "encoding": {"x": {"field": "inizio", "type": "quantitative", "scale": {"domain": [300, 2500], "nice": false, "zero": false}, "axis": {"title": "Lunghezza d'onda", "tickCount": 22, "tickMinStep": 100}}, "x2": {"field": "fine"}, "y": {"datum": 0, "type": "quantitative", "scale": {"domain": [0, 100], "nice": false}, "axis": {"title": "Riflettanza", "tickCount": 10, "tickMinStep": 10}}, "y2": {"datum": 100}}},
                {"data": {"values": [{}]}, "mark": {"type": "rect", "color": "#b38d22"},
                 "encoding": {"x": {"datum": 1711.4, "type": "quantitative", "scale": {"domain": [300, 2500], "nice": false, "zero": false}, "axis": {"title": "Lunghezza d'onda", "tickCount": 22, "tickMinStep": 100}}, "x2": {"datum": 1857.4}, "y": {"datum": 94.26, "type": "quantitative", "scale": {"domain": [0, 100], "nice": false}, "axis": {"title": "Riflettanza", "tickCount": 10, "tickMinStep": 10}}, "y2": {"datum": 84.05}}},
                {"data": {"values": [{}]}, "mark": {"type": "rect", "filled": false, "stroke": "#bfbfbf", "strokeWidth": 1, "clip": false},
                 "encoding": {"x": {"datum": 55.1, "type": "quantitative", "scale": {"domain": [300, 2500], "nice": false, "zero": false}, "axis": {"title": "Lunghezza d'onda", "tickCount": 22, "tickMinStep": 100}}, "x2": {"datum": 2562}, "y": {"datum": 103, "type": "quantitative", "scale": {"domain": [0, 100], "nice": false}, "axis": {"title": "Riflettanza", "tickCount": 10, "tickMinStep": 10}}, "y2": {"datum": -10.55}}}
              ]
            }
          ]
        },
        {
          "spacing": 0,
          "resolve": {"scale": {"x": "independent", "y": "independent", "color": "independent"}, "legend": {"color": "independent"}},
          "hconcat": [
            {"width": 278, "height": 1, "data": {"values": []}, "mark": "point", "encoding": {}},
            {
              "width": 534, "height": 344,
              "layer": [
                {"data": {"name": "c4"}, "mark": {"type": "line", "strokeWidth": 2.6, "interpolate": "monotone"},
                 "encoding": {
                   "x": {"field": "nm", "type": "quantitative", "scale": {"domain": [300, 2500], "nice": false, "zero": false}, "axis": {"title": "Lunghezza d'onda", "tickCount": 22, "tickMinStep": 100}},
                   "y": {"field": "r", "type": "quantitative", "scale": {"domain": [0, 100], "nice": false}, "axis": {"title": "Riflettanza", "tickCount": 10, "tickMinStep": 10}},
                   "color": {"field": "serie", "type": "nominal", "scale": {"domain": ["C4_S", "C4_C"], "range": ["#4a7ebb", "#000000"]}, "legend": {"legendX": 378.7, "legendY": 20.7}}
                 }},
                {"data": {"values": [{"inizio": 380, "fine": 770}]}, "mark": {"type": "rect", "color": "#92d050", "opacity": 0.5},
                 "encoding": {"x": {"field": "inizio", "type": "quantitative", "scale": {"domain": [300, 2500], "nice": false, "zero": false}, "axis": {"title": "Lunghezza d'onda", "tickCount": 22, "tickMinStep": 100}}, "x2": {"field": "fine"}, "y": {"datum": 0, "type": "quantitative", "scale": {"domain": [0, 100], "nice": false}, "axis": {"title": "Riflettanza", "tickCount": 10, "tickMinStep": 10}}, "y2": {"datum": 100}}},
                {"data": {"values": [{}]}, "mark": {"type": "rect", "color": "#a9a032"},
                 "encoding": {"x": {"datum": 1716.2, "type": "quantitative", "scale": {"domain": [300, 2500], "nice": false, "zero": false}, "axis": {"title": "Lunghezza d'onda", "tickCount": 22, "tickMinStep": 100}}, "x2": {"datum": 1860.4}, "y": {"datum": 93.98, "type": "quantitative", "scale": {"domain": [0, 100], "nice": false}, "axis": {"title": "Riflettanza", "tickCount": 10, "tickMinStep": 10}}, "y2": {"datum": 84.1}}},
                {"data": {"values": [{}]}, "mark": {"type": "rect", "filled": false, "stroke": "#bfbfbf", "strokeWidth": 1, "clip": false},
                 "encoding": {"x": {"datum": 59.8, "type": "quantitative", "scale": {"domain": [300, 2500], "nice": false, "zero": false}, "axis": {"title": "Lunghezza d'onda", "tickCount": 22, "tickMinStep": 100}}, "x2": {"datum": 2565}, "y": {"datum": 103, "type": "quantitative", "scale": {"domain": [0, 100], "nice": false}, "axis": {"title": "Riflettanza", "tickCount": 10, "tickMinStep": 10}}, "y2": {"datum": -10.52}}}
              ]
            }
          ]
        }
      ]
    }
  ]
}
